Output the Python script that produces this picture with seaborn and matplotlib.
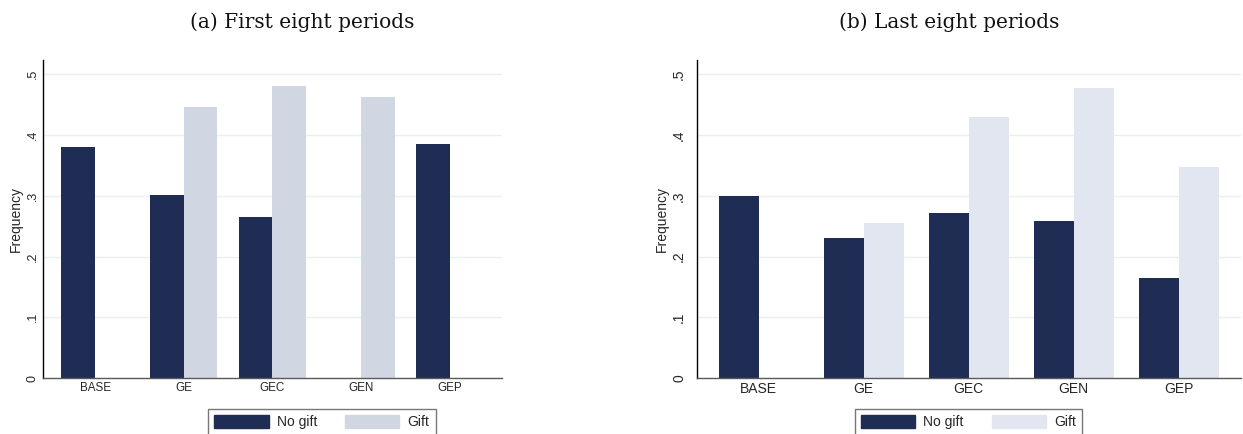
import numpy as np
import pandas as pd
import matplotlib
matplotlib.use('Agg')
import matplotlib.pyplot as plt
import matplotlib.patches as mpatches
import seaborn as sns

treatments = ['BASE', 'GE', 'GEC', 'GEN', 'GEP']
first_no_gift = [0.380, 0.301, 0.265, np.nan, 0.385]
first_gift = [np.nan, 0.446, 0.481, 0.463, np.nan]
last_no_gift = [0.300, 0.230, 0.272, 0.258, 0.165]
last_gift = [np.nan, 0.255, 0.430, 0.477, 0.347]
yticks = [0, 0.1, 0.2, 0.3, 0.4, 0.5]
ytick_labels = ['0', '.1', '.2', '.3', '.4', '.5']
groups = ['No gift', 'Gift']

navy = '#1f2d55'
light_a = '#d0d7e3'
light_b = '#e1e6f0'
grid_col = '#e9f0f2'

W, H = 1243, 434


def make_df(no_gift, gift):
    rows = []
    for t, v in zip(treatments, no_gift):
        rows.append((t, 'No gift', v))
    for t, v in zip(treatments, gift):
        rows.append((t, 'Gift', v))
    df = pd.DataFrame(rows, columns=['treatment', 'gift', 'freq'])
    return df.dropna()


def draw_panel(fig, rect, df, light, xtick_fs, ytick_fs, tick_len, tick_pad,
               ylab_pad, title, title_x, legend_x):
    ax = fig.add_axes(rect)
    sns.barplot(data=df, x='treatment', y='freq', hue='gift',
                order=treatments, hue_order=groups,
                palette={'No gift': navy, 'Gift': light},
                width=0.76, errorbar=None, saturation=1, linewidth=0,
                legend=False, ax=ax)
    ax.set_xlim(-0.59, 4.59)
    ax.set_ylim(0, 0.5235)
    ax.set_yticks(yticks)
    ax.set_yticklabels(ytick_labels, rotation=90, va='center', ha='right',
                       fontsize=ytick_fs)
    ax.tick_params(axis='y', length=tick_len, width=0.8, pad=tick_pad,
                   color='black')
    ax.tick_params(axis='x', length=0, pad=3, labelsize=xtick_fs)
    ax.set_xlabel('')
    ax.set_ylabel('Frequency', fontsize=10, labelpad=ylab_pad)
    ax.yaxis.grid(True, color=grid_col, lw=1)
    ax.xaxis.grid(False)
    ax.set_axisbelow(True)
    for s in ['top', 'right']:
        ax.spines[s].set_visible(False)
    ax.spines['left'].set_color('black')
    ax.spines['left'].set_linewidth(1)
    ax.spines['bottom'].set_color('#5a5a5a')
    ax.spines['bottom'].set_linewidth(1)

    fig.text(title_x / W, 1 - 22 / H, title, ha='center', va='center',
             family='DejaVu Serif', fontsize=14.5, color='#111111')

    handles = [mpatches.Patch(color=navy, label='No gift'),
               mpatches.Patch(color=light, label='Gift')]
    leg = fig.legend(handles=handles, loc='upper center', ncol=2,
                     bbox_to_anchor=(legend_x / W, 1 - 409 / H),
                     borderaxespad=0,
                     fontsize=10, handlelength=3.9, handleheight=1.0,
                     handletextpad=0.6, columnspacing=2.0, borderpad=0.45,
                     fancybox=False, frameon=True)
    leg.get_frame().set_edgecolor('#555555')
    leg.get_frame().set_linewidth(1)
    return ax


sns.set_style('white')
plt.rcParams['font.family'] = ['Liberation Sans', 'DejaVu Sans']

fig = plt.figure(figsize=(W / 100, H / 100), dpi=100)

draw_panel(fig, [42.7 / W, 1 - 378 / H, 459.3 / W, 318 / H],
           make_df(first_no_gift, first_gift), light_a, 8.4, 9, 2.5, 0.5, 2.5,
           '(a) First eight periods', 302, 322)
draw_panel(fig, [696.7 / W, 1 - 378 / H, 544 / W, 318 / H],
           make_df(last_no_gift, last_gift), light_b, 10, 10, 3.6, 4, 2,
           '(b) Last eight periods', 949, 968.5)

fig.savefig('out.png', dpi=100)
